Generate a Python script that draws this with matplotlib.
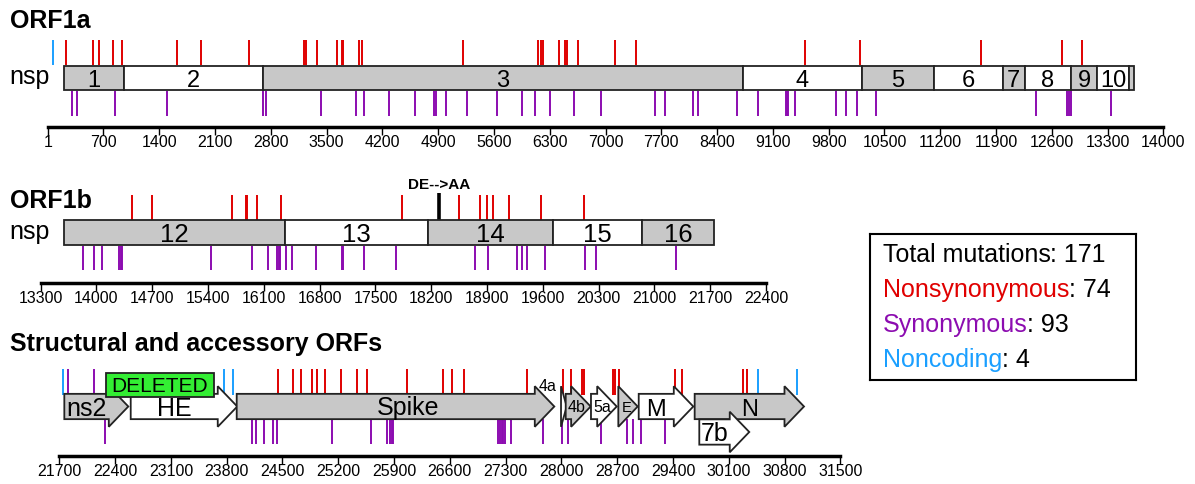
import matplotlib
matplotlib.use("Agg")
import matplotlib.pyplot as plt
from matplotlib.patches import Rectangle, FancyArrow

plt.rcParams["font.family"] = ["Liberation Sans", "DejaVu Sans"]

RED = "#e00000"
PURPLE = "#8c0cb0"
BLUE = "#1a9fff"
GRAY = "#c8c8c8"
EDGE = "#222222"

# ---- ORF1a ----
orf1a_ticks = [1] + list(range(700, 14001, 700))
orf1a_nsp_edges = [206, 955, 2706, 8722, 10215, 11123, 11985, 12261, 12842, 13172, 13574, 13633]
orf1a_nsp_names = ["1", "2", "3", "4", "5", "6", "7", "8", "9", "10", ""]
orf1a_nonsyn = [227, 566, 645, 817, 930, 1623, 1925, 2523, 3221, 3238, 3377, 3631, 3690,
                3710, 3907, 3945, 5216, 6150, 6191, 6213, 6419, 6494, 6514, 6652, 7116,
                7383, 9504, 10190, 11713, 12729, 12980]
orf1a_syn = [302, 372, 842, 1494, 2699, 2737, 3430, 3873, 3970, 4284, 4610, 4852, 4873,
             4995, 5259, 5635, 5953, 6120, 6304, 6605, 6944, 7622, 7747, 8095, 8161, 8647,
             8911, 9262, 9278, 9294, 9379, 9890, 10015, 10153, 10392, 12403, 12796, 12820,
             12841, 13340]
orf1a_noncoding = [64]

# ---- ORF1b ----
orf1b_ticks = list(range(13300, 22401, 700))
orf1b_nsp_edges = [13596, 16365, 18163, 19723, 20847, 21747]
orf1b_nsp_names = ["12", "13", "14", "15", "16"]
orf1b_nonsyn = [14442, 14700, 15704, 15876, 15892, 16010, 16315, 17836, 18548, 18811,
                18903, 18971, 19175, 19580, 20120]
orf1b_syn = [13834, 13965, 14069, 14286, 14304, 14320, 15433, 15947, 16148, 16268, 16286,
             16302, 16374, 16456, 16754, 17080, 17096, 17360, 17754, 18749, 18908, 19279,
             19334, 19397, 19627, 20129, 20267, 21270]
site_pos = 18301
site_label = "DE-->AA"

# ---- structural / accessory ----
struct_ticks = list(range(21700, 31501, 700))
gene_names = ["ns2", "HE", "Spike", "4a", "4b", "5a", "E", "M", "N", "7b"]
gene_starts = [21763, 22596, 23926, 27995, 28054, 28371, 28714, 28970, 29672, 29730]
gene_ends = [22566, 23933, 27911, 28066, 28367, 28694, 28957, 29655, 31044, 30357]
deleted_start, deleted_end = 22286, 23641
struct_nonsyn = [24440, 24628, 24733, 24867, 24930, 25034, 25231, 25431, 25557, 26066,
                 26518, 26623, 26782, 27564, 28024, 28120, 28255, 28283, 28651, 28672,
                 28726, 29425, 29509, 30275, 30325]
struct_syn_top = [21813, 22135]
struct_syn = [22273, 24114, 24164, 24268, 24385, 24428, 25118, 25607, 25815, 25849, 25870,
              25883, 27208, 27229, 27250, 27271, 27292, 27367, 27773, 28011, 28079, 28497,
              28819, 28902, 28995, 29300]
struct_noncoding = [21750, 23766, 23883, 30470, 30952]

legend_counts = [("Total mutations", "171", "black"), ("Nonsynonymous", "74", RED),
                 ("Synonymous", "93", PURPLE), ("Noncoding", "4", BLUE)]

W, H = 1195, 484
K = 0.0797  # pixels per nucleotide

fig = plt.figure(figsize=(W / 100, H / 100), dpi=100)


def panel(top, bottom, x0, px0):
    ax = fig.add_axes([0, 1 - bottom / H, 1, (bottom - top) / H])
    ax.set_xlim(x0 - px0 / K, x0 + (W - px0) / K)
    ax.set_ylim(bottom, top)
    for s in ("left", "right", "top"):
        ax.spines[s].set_visible(False)
    ax.set_yticks([])
    ax.patch.set_alpha(0)
    return ax


def genome_axis(ax, ticks, y):
    sp = ax.spines["bottom"]
    sp.set_position(("data", y))
    sp.set_bounds(ticks[0], ticks[-1])
    sp.set_linewidth(2.5)
    ax.set_xticks(ticks)
    ax.set_xticklabels([str(t) for t in ticks])
    ax.tick_params(axis="x", direction="out", length=5.5, width=1.0, pad=0.5, labelsize=11.5)


def nsp_bar(ax, edges, names, y0, y1, fs):
    for i, name in enumerate(names):
        a, b = edges[i], edges[i + 1]
        ax.add_patch(Rectangle((a, y0), b - a, y1 - y0, facecolor=GRAY if i % 2 == 0 else "white",
                               edgecolor=EDGE, lw=1.3, zorder=2))
        if name:
            ax.text((a + b) / 2, y1 - 3, name, ha="center", va="baseline", fontsize=fs, zorder=3)


# ORF1a panel
ax1 = panel(0, 160, 1, 47.7)
ax1.vlines(orf1a_nonsyn, 40, 65, color=RED, lw=1.4)
ax1.vlines(orf1a_noncoding, 40, 65, color=BLUE, lw=1.4)
ax1.vlines(orf1a_syn, 91, 116, color=PURPLE, lw=1.4)
nsp_bar(ax1, orf1a_nsp_edges, orf1a_nsp_names, 65.5, 90, 17)
genome_axis(ax1, orf1a_ticks, 126.7)
fig.text(10 / W, 1 - 28.5 / H, "ORF1a", fontsize=18, fontweight="bold", va="baseline")
fig.text(9 / W, 1 - 84 / H, "nsp", fontsize=18, va="baseline")

# ORF1b panel
ax2 = panel(160, 320, 13300, 40.7)
ax2.vlines(orf1b_nonsyn, 195, 220, color=RED, lw=1.4)
ax2.vlines(orf1b_syn, 246, 270, color=PURPLE, lw=1.4)
ax2.vlines([site_pos], 193, 220, color="black", lw=2.6)
ax2.text(site_pos, 189, site_label, ha="center", va="baseline", fontsize=11, fontweight="bold")
nsp_bar(ax2, orf1b_nsp_edges, orf1b_nsp_names, 220, 245, 18.5)
genome_axis(ax2, orf1b_ticks, 282.7)
fig.text(10 / W, 1 - 208.5 / H, "ORF1b", fontsize=18, fontweight="bold", va="baseline")
fig.text(9 / W, 1 - 239.5 / H, "nsp", fontsize=18, va="baseline")

# structural and accessory ORFs panel
ax3 = panel(320, 484, 21700, 59.3)
ax3.vlines(struct_nonsyn, 369, 395, color=RED, lw=1.4, zorder=1)
ax3.vlines(struct_noncoding, 369, 395, color=BLUE, lw=1.4, zorder=1)
ax3.vlines(struct_syn_top, 369, 395, color=PURPLE, lw=1.4, zorder=1)
ax3.vlines(struct_syn, 419, 444, color=PURPLE, lw=1.4, zorder=1)

gene_fill = [GRAY, "white", GRAY, "white", GRAY, "white", GRAY, "white", GRAY, "white"]
gene_row_y = [406.5] * 9 + [432]
label_size = [18, 18, 18, 0, 11.5, 11.5, 10.5, 17, 17, 18]
head_len = 245
for i, name in enumerate(gene_names):
    s, e, yc = gene_starts[i], gene_ends[i], gene_row_y[i]
    hl = min(head_len, e - s)
    ax3.add_patch(FancyArrow(s, yc, e - s, 0, width=25.3, head_width=40.6, head_length=hl,
                             length_includes_head=True, facecolor=gene_fill[i],
                             edgecolor=EDGE, lw=1.3, zorder=2 + i * 0.01))
    if label_size[i]:
        body_mid = (s + e - hl) / 2 if e - s > 2 * head_len else s + 0.42 * (e - s)
        if name == "Spike":
            body_mid += 280
        if name == "N":
            body_mid += 130
        off = 9 if label_size[i] >= 17 else 5
        ax3.text(body_mid, yc + off, name, ha="center", va="baseline",
                 fontsize=label_size[i], zorder=3)
ax3.text(27830, 391, "4a", ha="center", va="baseline", fontsize=11.5, zorder=3)

ax3.add_patch(Rectangle((deleted_start, 372.7), deleted_end - deleted_start, 24,
                        facecolor="#33ee33", edgecolor=EDGE, lw=1.3, zorder=4))
ax3.text((deleted_start + deleted_end) / 2, 391.7, "DELETED", ha="center", va="baseline",
         fontsize=15, zorder=5)
genome_axis(ax3, struct_ticks, 456)
fig.text(10 / W, 1 - 351.5 / H, "Structural and accessory ORFs", fontsize=18,
         fontweight="bold", va="baseline")

# legend box
lx0, lx1, ly0, ly1 = 870, 1136, 234.3, 380
axl = fig.add_axes([lx0 / W, 1 - ly1 / H, (lx1 - lx0) / W, (ly1 - ly0) / H])
axl.set_xlim(lx0, lx1)
axl.set_ylim(ly1, ly0)
axl.set_xticks([])
axl.set_yticks([])
for s in axl.spines.values():
    s.set_linewidth(1.5)
for i, (word, count, col) in enumerate(legend_counts):
    t = axl.text(882.5, 262 + 35 * i, word, color=col, fontsize=18, va="baseline")
    axl.annotate(": " + count, xy=(1, 0), xycoords=t, va="bottom", ha="left",
                 fontsize=18, color="black")

fig.savefig("out.png", dpi=100)
